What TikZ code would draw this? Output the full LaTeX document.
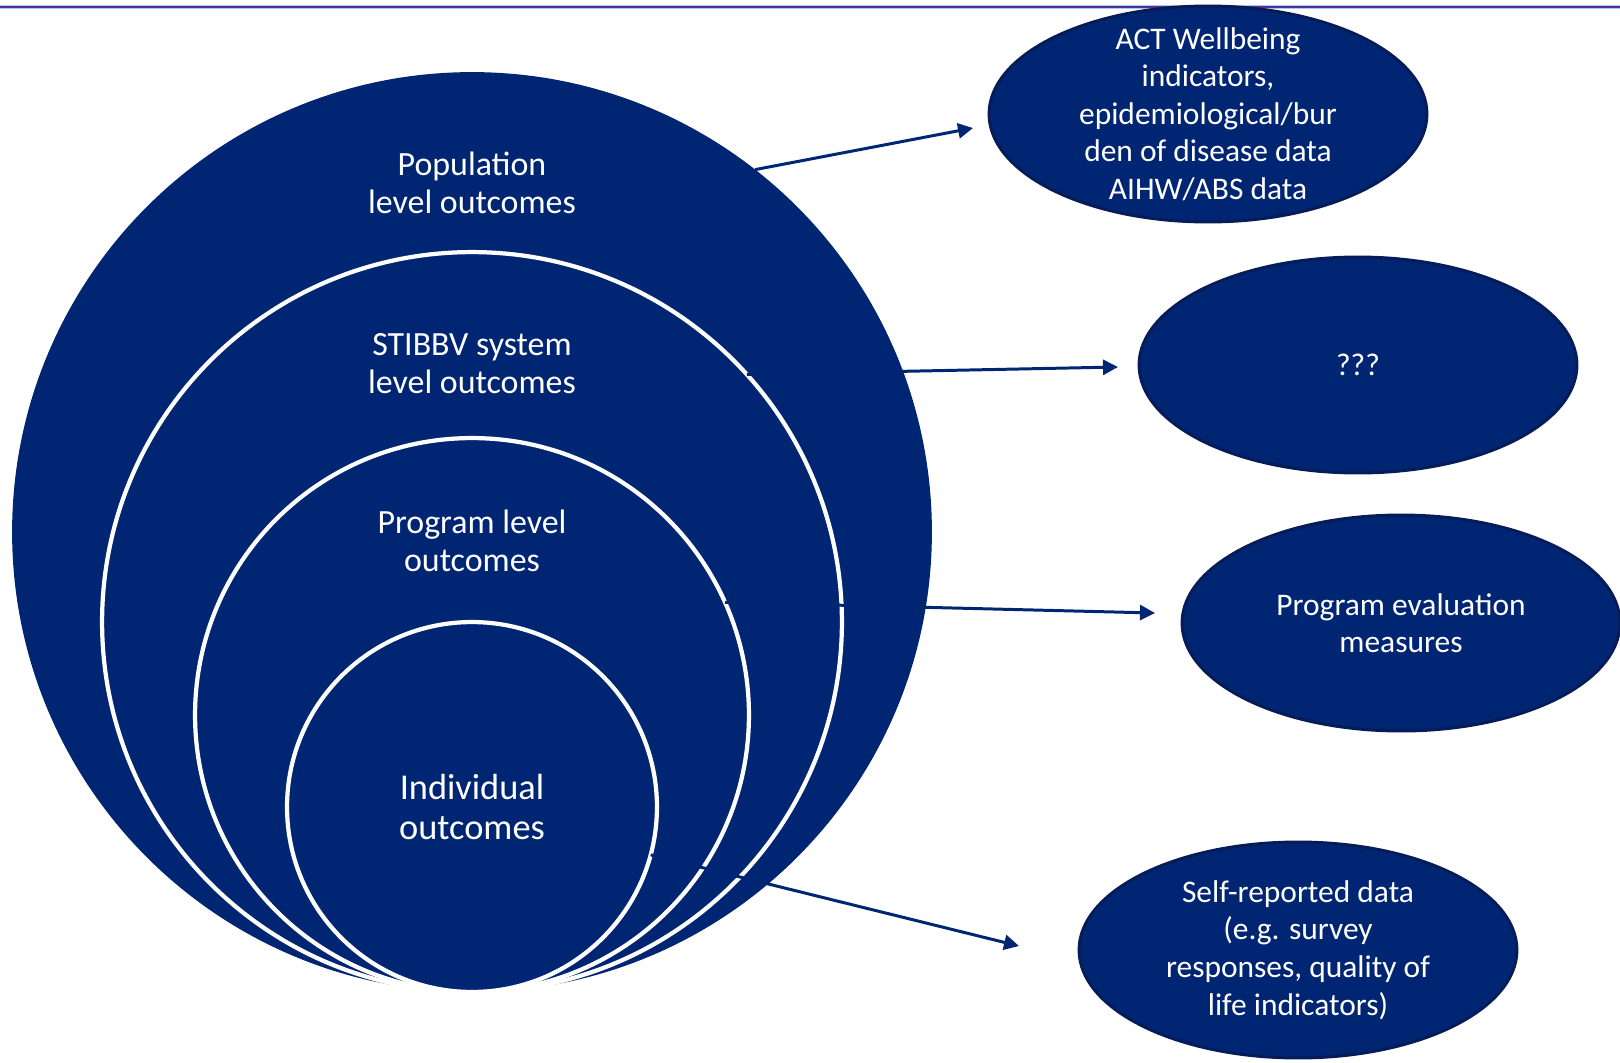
\documentclass[tikz,border=0pt]{standalone}
\usepackage{fontspec}
\setmainfont{Carlito}
\usetikzlibrary{arrows.meta}
\usetikzlibrary{shapes}
\definecolor{navy}{RGB}{0,38,115}
\definecolor{navyedge}{RGB}{6,28,88}
\definecolor{rulepurple}{RGB}{80,50,150}
\definecolor{rulehalo}{RGB}{170,200,235}

\begin{document}
\begin{tikzpicture}[
        x=0.02cm, y=-0.02cm,
        ring/.style={circle,fill=navy,draw=white,line width=2.4pt,inner sep=0pt,outer sep=0pt},
        lbl/.style={text=white,align=center,font=\fontsize{19.3}{21.5}\selectfont},
        source/.style={ellipse,fill=navy,draw=navyedge,line width=1.7pt,minimum width=8.76cm,minimum height=4.32cm,inner sep=0pt},
        srctext/.style={text=white,align=center,font=\fontsize{17.9}{21.4}\selectfont},
        link/.style={draw=navy,line width=1.7pt,-{Triangle[length=0.3cm,width=0.3cm]}},
        ]
        \useasboundingbox (0,0) rectangle (1620,1062);

        % header rule
        \draw[rulehalo,line width=2.8pt] (0,7) -- (1620,7);
        \draw[rulepurple,line width=1.6pt] (0,7) -- (1620,7);

        % nested outcome levels
        \node[ring,draw=none,minimum size=18.4cm](pop) at (472,532){};
        \node[ring,minimum size=14.8cm](sys) at (472,622){};
        \node[ring,minimum size=11.08cm](prog) at (472,715){};
        \node[ring,minimum size=7.4cm](indiv) at (472,807){};

        \node[lbl](poptxt) at (472,183){Population\\level outcomes};
        \node[lbl](systxt) at (472,364){STIBBV system\\level outcomes};
        \node[lbl](progtxt) at (472,541){Program level\\outcomes};
        \node[lbl,font=\fontsize{20.7}{23.2}\selectfont](indivtxt) at (472,807){Individual\\outcomes};

        % data sources
        \node[source](wellbeing) at (1208,114){};
        \node[source](unknown) at (1358,365){};
        \node[source](evaluation) at (1401,623){};
        \node[source](selfreport) at (1298,950){};

        \node[srctext] at (wellbeing){ACT Wellbeing\\indicators,\\epidemiological/bur\\den of disease data\\AIHW/ABS data};
        \node[srctext] at (unknown){???};
        \node[srctext] at (evaluation){Program evaluation\\measures};
        \node[srctext] at (selfreport){Self-reported data\\(e.g. survey\\responses, quality of\\life indicators)};

        \coordinate (tip1) at (973,128);
        \coordinate (tip2) at (1118,367);
        \coordinate (tip3) at (1155,613);
        \coordinate (tip4) at (1019,946);

        \draw[link] (pop.52.7) -- (tip1);
        \draw[link] (sys.42.9) -- (tip2);
        \draw[link] (prog.24) -- (tip3);
        \draw[link] (indiv.-15.5) -- (tip4);
\end{tikzpicture}
\end{document}
